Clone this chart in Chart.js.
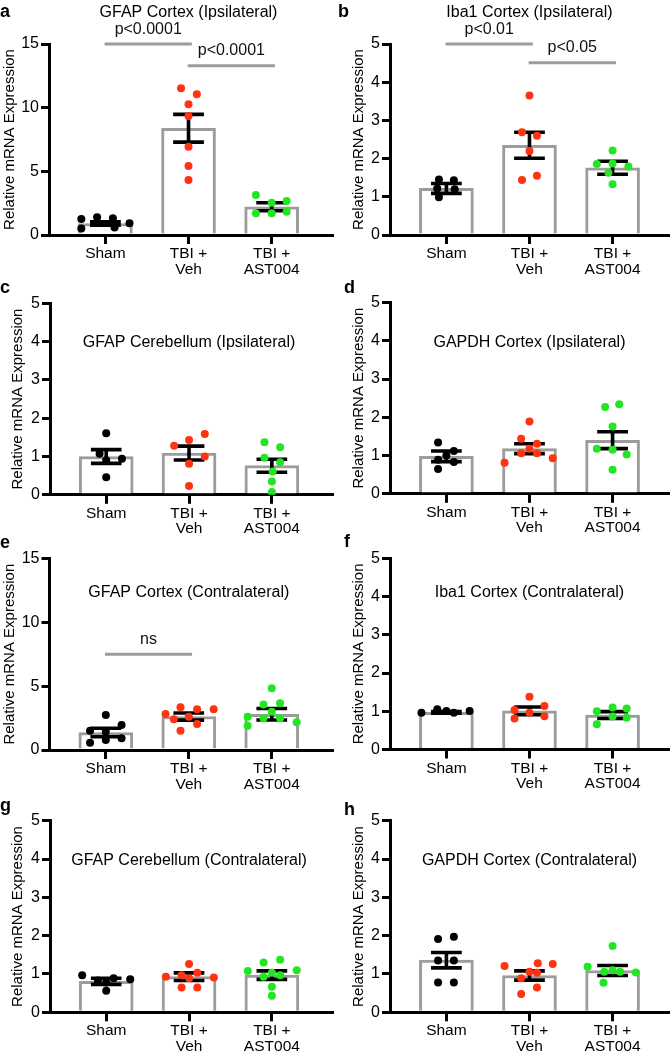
<!DOCTYPE html>
<html><head><meta charset="utf-8">
<script src="https://cdn.jsdelivr.net/npm/chart.js@4.4.1/dist/chart.umd.min.js"></script>
<style>
html,body{margin:0;padding:0;background:#fff;}
#wrap{position:relative;width:672px;height:1058px;overflow:hidden;background:#fff;}
canvas{position:absolute;}
</style></head><body><div id="wrap"></div>
<script>
// ---------- DATA ----------
const groups = ['Sham', 'TBI + Veh', 'TBI + AST004'];
const tickLabels = [['Sham'], ['TBI +', 'Veh'], ['TBI +', 'AST004']];

// a: GFAP Cortex (Ipsilateral)
const aSham = [1.26, 0.52, 1.39, 0.97, 1.31, 0.58, 0.92];
const aVeh  = [11.52, 11.05, 10.26, 9.35, 6.94, 5.42, 4.32];
const aAst  = [3.14, 2.54, 2.67, 1.70, 1.70, 1.83];
const aMean = [0.90, 8.38, 2.22];
const aSem  = [0.13, 1.09, 0.31];
const aSig  = [{from: 1, to: 2, y: 15, label: 'p<0.0001'}, {from: 2, to: 3, y: 13.3, label: 'p<0.0001'}];

// b: Iba1 Cortex (Ipsilateral)
const bSham = [1.45, 1.43, 1.22, 1.20, 0.99];
const bVeh  = [3.65, 2.69, 2.60, 2.20, 1.44, 1.55];
const bAst  = [2.21, 1.86, 1.87, 1.79, 1.63, 1.33];
const bMean = [1.22, 2.35, 1.76];
const bSem  = [0.13, 0.34, 0.17];
const bSig  = [{from: 1, to: 2, y: 5, label: 'p<0.01'}, {from: 2, to: 3, y: 4.51, label: 'p<0.05'}];

// c: GFAP Cerebellum (Ipsilateral)
const cSham = [1.61, 1.07, 0.94, 0.90, 0.46];
const cVeh  = [1.28, 1.43, 1.59, 1.00, 0.81, 0.23];
const cAst  = [1.37, 1.24, 0.97, 0.85, 0.61, 0.35, 0.07];
const cMean = [1.00, 1.09, 0.76];
const cSem  = [0.18, 0.18, 0.17];

// d: GAPDH Cortex (Ipsilateral)
const dSham = [1.34, 1.12, 1.00, 0.89, 0.83, 0.65];
const dVeh  = [1.89, 1.44, 1.31, 1.18, 1.06, 1.06, 0.81, 0.93];
const dAst  = [2.27, 2.34, 1.76, 1.18, 1.15, 1.03, 0.63];
const dMean = [0.98, 1.18, 1.40];
const dSem  = [0.14, 0.13, 0.22];

// e: GFAP Cortex (Contralateral)
const eSham = [2.74, 1.51, 1.96, 1.43, 0.57, 0.78, 0.91];
const eVeh  = [2.82, 3.34, 3.18, 3.18, 2.40, 2.60, 1.51, 2.03];
const eAst  = [4.83, 3.57, 3.65, 2.61, 2.48, 2.48, 1.90, 2.17, 3.00];
const eMean = [1.37, 2.62, 2.80];
const eSem  = [0.33, 0.28, 0.45];
const eSig  = [{from: 1, to: 2, y: 7.5, label: 'ns'}];

// f: Iba1 Cortex (Contralateral)
const fSham = [0.96, 1.05, 0.96, 1.01, 1.01];
const fVeh  = [1.38, 1.03, 1.14, 0.81, 0.96, 0.87];
const fAst  = [1.00, 1.10, 1.07, 0.66, 0.86, 0.83];
const fMean = [0.97, 1.01, 0.90];
const fSem  = [0.02, 0.10, 0.09];

// g: GFAP Cerebellum (Contralateral)
const gSham = [0.97, 0.83, 0.89, 0.86, 0.56, 0.78];
const gVeh  = [1.26, 0.93, 0.97, 1.03, 0.91, 0.65, 0.65, 0.89];
const gAst  = [1.30, 1.37, 1.08, 1.10, 1.03, 0.93, 0.97, 0.67, 0.43];
const gMean = [0.81, 0.93, 0.97];
const gSem  = [0.08, 0.10, 0.11];

// h: GAPDH Cortex (Contralateral)
const hSham = [1.91, 1.97, 1.35, 1.35, 0.78, 0.78];
const hVeh  = [1.21, 1.28, 1.26, 0.89, 1.03, 0.48, 0.65, 1.06];
const hAst  = [1.73, 1.19, 1.06, 1.06, 1.04, 0.77, 1.10];
const hMean = [1.36, 0.96, 1.09];
const hSem  = [0.20, 0.12, 0.13];

// horizontal scatter spread of the dots (category units), style only
const aJit = [[-0.29,-0.29,-0.10,-0.10,0.09,0.11,0.29],[-0.09,0.10,0,0,0,0,0],[-0.19,0,0.18,-0.19,0,0.18]];
const bJit = [[-0.09,0.09,-0.11,0.10,-0.09],[0,-0.09,0.09,0,-0.09,0.09],[0,-0.19,0,0.19,-0.05,0]];
const cJit = [[0,-0.08,0.19,0,0],[-0.18,0,0.19,0.19,0,0],[-0.09,0.10,-0.09,0.10,0.01,0,0]];
const dJit = [[-0.10,0.09,0,-0.10,0.09,-0.10],[0,-0.10,0.09,0,-0.10,0.09,-0.30,0.28],[-0.09,0.08,0,-0.19,0,0.17,0]];
const eJit = [[0,-0.19,0.19,0,-0.19,0,0.19],[-0.28,-0.10,0.10,0.30,-0.18,0,-0.10,0.10],[0,-0.10,0.10,-0.29,-0.10,0.10,-0.29,0.30,0]];
const fJit = [[-0.30,-0.11,0.09,0.28,0],[0,-0.18,0.18,-0.18,0,0.18],[-0.19,0,0.17,-0.19,0,0.17]];
const gJit = [[-0.29,-0.10,0.09,0.29,0,0],[0,-0.28,-0.09,0.10,0.30,-0.09,0.10,0],[-0.10,0.10,-0.29,0.30,0,-0.10,0.10,0,0]];
const hJit = [[-0.10,0.09,-0.10,0.09,-0.10,0.09],[-0.30,0.10,0.28,-0.10,0.09,-0.10,0.09,0],[0,-0.30,-0.10,0.09,0.28,-0.11,0]];

// ---------- STYLE / LAYOUT ----------
const FONT = '"Liberation Sans", Arial, Helvetica, sans-serif';
const dotColors = ['#000000', '#ff3311', '#22e622'];
const barGray = '#9c9c9c';
Chart.defaults.font.family = FONT;
Chart.defaults.color = '#000';

const panels = [
  {key:'a', title:'GFAP Cortex (Ipsilateral)', yMax:15, yStep:5, vals:[aSham,aVeh,aAst], jit:aJit, mean:aMean, sem:aSem, sig:aSig,
   cx:0, cy:0, ch:290, axisX:49, right:335, top:44, bottom:235, titleDy:-27, lx:0, lDy:-27, ytPad:1, xmax:3.726},
  {key:'b', title:'Iba1 Cortex (Ipsilateral)', yMax:5, yStep:1, vals:[bSham,bVeh,bAst], jit:bJit, mean:bMean, sem:bSem, sig:bSig,
   cx:336, cy:0, ch:290, axisX:390, right:671, top:44, bottom:235, titleDy:-27, lx:338, lDy:-27, ytPad:14, xmax:3.667},
  {key:'c', title:'GFAP Cerebellum (Ipsilateral)', yMax:5, yStep:1, vals:[cSham,cVeh,cAst], jit:cJit, mean:cMean, sem:cSem, sig:[],
   cx:0, cy:260, ch:290, axisX:50, right:335, top:303.3, bottom:494.8, titleDy:44, lx:0, lDy:-10, ytPad:9, xmax:3.726},
  {key:'d', title:'GAPDH Cortex (Ipsilateral)', yMax:5, yStep:1, vals:[dSham,dVeh,dAst], jit:dJit, mean:dMean, sem:dSem, sig:[],
   cx:336, cy:260, ch:290, axisX:390, right:671, top:302.5, bottom:493.8, titleDy:44.8, lx:344, lDy:-10, ytPad:14, xmax:3.667},
  {key:'e', title:'GFAP Cortex (Contralateral)', yMax:15, yStep:5, vals:[eSham,eVeh,eAst], jit:eJit, mean:eMean, sem:eSem, sig:eSig,
   cx:0, cy:530, ch:275, axisX:49.5, right:335, top:558.3, bottom:750, titleDy:38.4, lx:0, lDy:-10, ytPad:1, xmax:3.726},
  {key:'f', title:'Iba1 Cortex (Contralateral)', yMax:5, yStep:1, vals:[fSham,fVeh,fAst], jit:fJit, mean:fMean, sem:fSem, sig:[],
   cx:336, cy:530, ch:275, axisX:390, right:671, top:558.3, bottom:749.5, titleDy:38.4, lx:344, lDy:-11, ytPad:14, xmax:3.667},
  {key:'g', title:'GFAP Cerebellum (Contralateral)', yMax:5, yStep:1, vals:[gSham,gVeh,gAst], jit:gJit, mean:gMean, sem:gSem, sig:[],
   cx:0, cy:795, ch:263, axisX:50, right:335, top:820.7, bottom:1012.3, titleDy:44.3, lx:0, lDy:-10, ytPad:9, xmax:3.726},
  {key:'h', title:'GAPDH Cortex (Contralateral)', yMax:5, yStep:1, vals:[hSham,hVeh,hAst], jit:hJit, mean:hMean, sem:hSem, sig:[],
   cx:336, cy:795, ch:263, axisX:390, right:671, top:820.7, bottom:1012.3, titleDy:44.3, lx:344, lDy:-6, ytPad:14, xmax:3.667}
];
const XMIN = 0.3214;
const CAP_HALF = 0.185;

const extras = {
  id: 'extras',
  afterDatasetDraw(chart, args, o) {
    if (args.meta.type !== 'bar') return;
    const xs = chart.scales.x, ys = chart.scales.y, ctx = chart.ctx;
    ctx.save();
    ctx.strokeStyle = '#000'; ctx.lineWidth = 3.6; ctx.lineCap = 'butt';
    o.mean.forEach((m, i) => {
      const x = xs.getPixelForValue(i + 1);
      const hw = xs.getPixelForValue(i + 1 + CAP_HALF) - x;
      const hi = ys.getPixelForValue(m + o.sem[i]);
      const lo = ys.getPixelForValue(m - o.sem[i]);
      ctx.beginPath();
      ctx.moveTo(x, hi); ctx.lineTo(x, lo);
      ctx.moveTo(x - hw, hi); ctx.lineTo(x + hw, hi);
      ctx.moveTo(x - hw, lo); ctx.lineTo(x + hw, lo);
      ctx.stroke();
    });
    ctx.restore();
  },
  afterDraw(chart, args, o) {
    const xs = chart.scales.x, ys = chart.scales.y, ctx = chart.ctx;
    const top = chart.chartArea.top;
    ctx.save();
    // panel letter
    ctx.fillStyle = '#000';
    ctx.font = 'bold 18px ' + FONT;
    ctx.textAlign = 'left'; ctx.textBaseline = 'alphabetic';
    ctx.fillText(o.letter, o.lx, top + o.lDy);
    // title
    ctx.font = '16px ' + FONT;
    ctx.textAlign = 'center';
    ctx.fillText(o.title, xs.getPixelForValue(2), top + o.titleDy);
    // significance bars
    o.sig.forEach(s => {
      const x1 = xs.getPixelForValue(s.from - 0.01), x2 = xs.getPixelForValue(s.to + 0.04);
      const y = ys.getPixelForValue(s.y);
      ctx.strokeStyle = barGray; ctx.lineWidth = 3;
      ctx.beginPath(); ctx.moveTo(x1, y); ctx.lineTo(x2, y); ctx.stroke();
      ctx.fillStyle = '#111';
      ctx.font = '16px ' + FONT;
      ctx.fillText(s.label, (x1 + x2) / 2, y - 10.5);
    });
    ctx.restore();
  }
};

const wrap = document.getElementById('wrap');
panels.forEach(p => {
  const cw = 336;
  const cv = document.createElement('canvas');
  cv.width = cw; cv.height = p.ch;
  cv.style.left = p.cx + 'px'; cv.style.top = p.cy + 'px';
  cv.style.width = cw + 'px'; cv.style.height = p.ch + 'px';
  wrap.appendChild(cv);

  const yW = p.axisX - p.cx;
  const xH = p.cy + p.ch - p.bottom;
  const datasets = [{
    type: 'bar',
    data: p.mean.map((m, i) => ({x: i + 1, y: m})),
    backgroundColor: '#ffffff',
    borderColor: barGray,
    borderWidth: 3,
    barThickness: 54,
    order: 2
  }];
  p.vals.forEach((arr, g) => {
    datasets.push({
      type: 'scatter',
      data: arr.map((v, k) => ({x: g + 1 + p.jit[g][k], y: v})),
      backgroundColor: dotColors[g],
      borderWidth: 0,
      pointRadius: 4,
      pointHoverRadius: 4,
      order: 1
    });
  });

  new Chart(cv, {
    type: 'bar',
    data: {datasets},
    plugins: [extras],
    options: {
      responsive: false,
      animation: false,
      devicePixelRatio: 1,
      events: [],
      layout: {padding: {left: 0, bottom: 0, top: p.top - p.cy, right: p.cx + cw - p.right}},
      plugins: {
        legend: {display: false},
        tooltip: {enabled: false},
        extras: {letter: p.key, lx: p.lx - p.cx, lDy: p.lDy, title: p.title, titleDy: p.titleDy,
                 mean: p.mean, sem: p.sem, sig: p.sig}
      },
      scales: {
        x: {
          type: 'linear', min: XMIN, max: p.xmax, offset: false,
          afterFit: s => { s.height = xH; },
          afterBuildTicks: s => { s.ticks = [1, 2, 3].map(v => ({value: v})); },
          grid: {display: true, drawOnChartArea: false, drawTicks: true, tickLength: 9, tickWidth: 3,
                 tickColor: '#000', lineWidth: 3, color: '#000', offset: false},
          border: {display: true, color: '#000', width: 3},
          ticks: {autoSkip: false, maxRotation: 0, padding: 2, color: '#000',
                  font: {size: 15.5, lineHeight: 1.0},
                  callback: v => tickLabels[Math.round(v) - 1]}
        },
        y: {
          type: 'linear', min: 0, max: p.yMax,
          afterFit: s => { s.width = yW; },
          ticks: {stepSize: p.yStep, padding: 2, color: '#000', font: {size: 16}},
          grid: {display: true, drawOnChartArea: false, drawTicks: true, tickLength: 8, tickWidth: 3,
                 tickColor: '#000', lineWidth: 3, color: '#000'},
          border: {display: true, color: '#000', width: 3},
          title: {display: true, text: 'Relative mRNA Expression', color: '#000',
                  font: {size: 15}, padding: {top: p.ytPad, bottom: 0}}
        }
      }
    }
  });
});
</script>
</body></html>
